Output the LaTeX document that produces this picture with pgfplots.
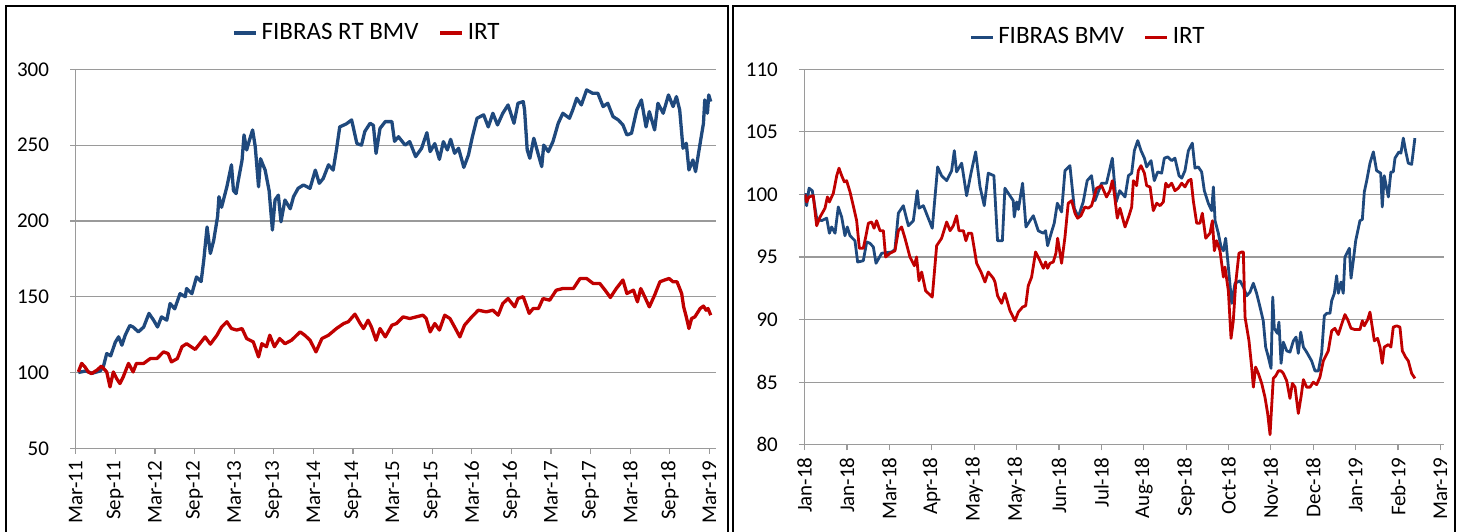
\documentclass[border=0pt]{standalone}
\usepackage{pgfplots}
\usepackage{fontspec}
\setmainfont{Carlito}
\pgfplotsset{compat=1.18}

\definecolor{fblue}{HTML}{1F497D}
\definecolor{irtred}{HTML}{C00000}
\definecolor{gridgray}{HTML}{9A9A9A}

\pgfplotsset{
  panel/.style={
    scale only axis,
    anchor=south west,
    axis x line*=bottom,
    axis y line*=left,
    axis line style={gridgray, line width=0.6pt},
    tick style={gridgray, line width=0.6pt},
    major tick length=2.8pt,
    tick align=outside,
    ymajorgrids,
    grid style={gridgray, line width=0.6pt},
    tick label style={font=\fontsize{10.5}{12}\selectfont},
    /pgf/number format/assume math mode=true,
    yticklabel shift=7pt,
    xticklabel style={rotate=90, anchor=east},
    legend columns=2,
    legend style={draw=none, fill=none, anchor=center,
      font=\fontsize{12.5}{14}\selectfont,
      /tikz/every even column/.append style={column sep=8pt}},
    legend image code/.code={\draw[#1] (0pt,0pt) -- (11pt,0pt);},
  },
  fser/.style={fblue, line width=1.65pt, line join=round},
  iser/.style={irtred, line width=1.65pt, line join=round},
}

\begin{document}
\begin{tikzpicture}
\useasboundingbox (0,0) rectangle (730pt,265.5pt);
\draw[line width=1pt] (2.75pt,-5pt) -- (2.75pt,262.5pt) -- (364.15pt,262.5pt) -- (364.15pt,-5pt);
\draw[line width=1pt] (366.35pt,-5pt) -- (366.35pt,262.5pt) -- (727.65pt,262.5pt) -- (727.65pt,-5pt);

% left: since March 2011 (x in months)
\begin{axis}[panel,
  at={(37.85pt,41.35pt)},
  width=320.15pt, height=189.5pt,
  xmin=0, xmax=97, ymin=50, ymax=300,
  ytick={50,100,...,300},
  xtick={0,6,...,96},
  xticklabels={Mar-11,Sep-11,Mar-12,Sep-12,Mar-13,Sep-13,Mar-14,Sep-14,Mar-15,Sep-15,Mar-16,Sep-16,Mar-17,Sep-17,Mar-18,Sep-18,Mar-19},
  legend style={at={(0.4565,1.0958)}},
]
\addplot[fser] coordinates {
(0.4,100) (1.5,101) (2.5,99.5) (3.7,101) (4.2,104) (4.7,112.5) (5.3,111) (6,120)
(6.5,123.5) (7,118) (7.5,124.6) (8.2,131) (8.7,130) (9.5,126.8) (10.3,130) (11.1,139)
(11.8,134.5) (12.4,130) (13,136.7) (13.8,134.5) (14.3,145.5) (15,142) (15.8,152) (16.6,150)
(16.8,155.4) (17.6,152) (18.3,163) (19,160) (19.4,174) (19.9,196) (20.4,178.5) (20.9,187)
(21.5,203) (21.7,216) (22.1,209) (22.9,222.5) (23.6,237) (23.9,220) (24.3,218) (24.6,226)
(25.2,240) (25.5,256.7) (25.9,246.8) (26.3,253) (26.8,260) (27.2,249) (27.7,222.5) (28,241)
(28.7,233.5) (29.3,220) (29.8,194) (30.2,213.8) (30.7,217) (31.1,199.4) (31.7,213.8) (32.5,208)
(33,216) (33.7,221.5) (34.5,223.7) (35.5,221.5) (36.3,233.5) (36.9,224.8) (37.5,228) (38.3,237)
(39,233.5) (39.5,246.8) (40,262) (41,264) (41.8,266.6) (42.6,251) (43.3,250) (43.8,259)
(44.6,264.4) (45.1,263) (45.5,244.5) (46.1,261) (46.9,265.5) (47.9,265.5) (48.3,252.5) (48.9,255.5)
(49.9,250) (50.6,252.3) (51.5,242.4) (52.4,247.9) (53.2,258.2) (53.7,245.7) (54.4,251) (55.1,240.6)
(55.7,252.3) (56.3,246.8) (56.8,253.8) (57.4,244.6) (58,247.9) (58.8,235.3) (59.5,243.5) (60.1,255.6)
(60.8,267.7) (61.8,270) (62.5,262) (63.2,271) (63.9,263.3) (64.7,271) (65.5,276.5) (66.4,264.4)
(67,277.6) (67.8,278.7) (68,273.2) (68.4,246.8) (68.8,241.3) (69.4,254.5) (70.1,243.5) (70.6,235.8)
(70.9,250) (71.6,245.7) (72.3,252.3) (73.1,264.4) (73.8,271) (74.8,267.7) (75.3,273.2) (75.9,280.9)
(76.6,276.5) (77.4,286.4) (78.3,284.2) (79.1,284.2) (79.9,275.4) (80.6,277.6) (81.4,268.8) (82.2,266.6)
(82.9,263.3) (83.5,256.7) (84.2,257.8) (85,273.2) (85.7,279.8) (86.4,262) (86.9,272.1) (87.7,260)
(88.2,277.6) (89,271) (89.8,283.1) (90.5,275.4) (91,282) (91.5,273.2) (92,247.9) (92.5,251.2)
(92.9,233.6) (93.5,240.2) (93.9,232.5) (94.6,251.2) (95.1,264.4) (95.3,279.8) (95.7,271) (95.9,283.1)
(96.2,278.7)
};
\addplot[iser] coordinates {
(0.4,100.4) (0.9,106) (1.4,103.7) (1.9,100.4) (2.4,99.3) (3.2,101.5) (3.9,104.2) (4.7,100.4)
(5.2,90.5) (5.7,100.4) (6.2,96) (6.7,92.7) (7.2,97.1) (8,106) (8.7,100.4) (9.2,106)
(10.3,106) (11.3,109.2) (12.3,109.2) (13.3,113.6) (14,112.5) (14.5,107) (15.4,109.2) (16.1,117)
(16.8,119) (18.1,115.2) (18.8,119) (19.6,123.5) (20.4,118.7) (21.4,124.6) (22.1,130) (22.9,133.5)
(23.6,129) (24.4,128) (25.2,129) (25.9,122.4) (26.9,120.2) (27.7,110.3) (28.2,119) (28.9,117)
(29.4,124.6) (30.1,117) (30.9,122.4) (31.7,119) (32.7,121.3) (34,126.8) (34.7,124.6) (35.5,121.3)
(36.4,113.6) (37.3,122.4) (38.3,124.6) (39.5,129) (40.6,132.3) (41.3,133.5) (42.3,138.5) (43.1,132.3)
(43.6,129) (44.3,134.5) (44.8,130) (45.5,121.3) (46.1,129) (46.9,123.5) (47.9,131.2) (48.6,132.3)
(49.6,136.7) (50.6,135.6) (51.6,136.7) (52.6,137.8) (53.1,135.6) (53.7,126.8) (54.4,132.3) (55.1,128)
(55.9,137.8) (56.7,135.6) (57.4,130) (58.2,123.5) (58.9,131.2) (60,136.7) (61,141.1) (62.2,140)
(63.2,141.1) (64,137.8) (64.7,145.5) (65.5,148.8) (66.5,143.3) (67,148.8) (67.8,150) (68.7,139)
(69.3,142.2) (70.1,142.2) (70.8,148.8) (71.8,147.7) (72.8,154.3) (73.8,155.4) (75.4,155.4) (76.4,162)
(77.4,162) (78.4,158.7) (79.4,158.7) (80.2,154.3) (81,149.5) (81.9,155.4) (82.9,161) (83.5,152.1)
(84.5,154.3) (85.1,146.6) (85.6,155.4) (86.2,150) (86.9,143.3) (87.7,151) (88.5,159.8) (89.2,161)
(89.9,162) (90.5,159.8) (91.1,159.8) (91.8,152.1) (92.1,143.3) (92.5,136.7) (92.9,129) (93.3,135.6)
(93.8,136.7) (94.6,142.2) (95.1,143.8) (95.5,141.1) (95.8,142.2) (96.2,137.8)
};
\legend{FIBRAS RT BMV, IRT}
\end{axis}

% right: 2018-2019 (x in days from 1 Jan 2018)
\begin{axis}[panel,
  at={(402.25pt,43.15pt)},
  width=319.75pt, height=187.7pt,
  xmin=0, xmax=452.5, ymin=80, ymax=110,
  ytick={80,85,...,110},
  xtick={0,30,...,450},
  xticklabels={Jan-18,Jan-18,Mar-18,Apr-18,May-18,May-18,Jun-18,Jul-18,Aug-18,Sep-18,Oct-18,Nov-18,Dec-18,Jan-19,Feb-19,Mar-19},
  legend style={at={(0.4449,1.0855)}},
  fser/.style={fblue, line width=1.4pt, line join=round},
  iser/.style={irtred, line width=1.4pt, line join=round},
]
\addplot[fser] coordinates {
(0.4,100.1) (1.5,99.1) (3.2,100.5) (5.5,100.3) (8.6,98.1) (12.1,97.9) (15.7,98.1) (17.6,96.9)
(19.2,97.4) (21.6,96.9) (23.9,99) (26.3,98.2) (28.6,96.7) (30.3,97.4) (32.2,96.7) (35.7,96.3)
(37.6,94.6) (41.6,94.7) (44,96.2) (46.3,96.1) (48.7,95.8) (50.6,94.5) (54.6,95.3) (61.7,95.4)
(64,95.6) (66.4,98.5) (69.9,99.1) (73.5,97.5) (77,97.9) (79.8,100.3) (81,98.9) (84.1,99.1)
(90.4,97.3) (94.2,102.2) (97,101.5) (100.6,101.1) (104.1,101.9) (106,103.5) (107.6,101.8) (111.2,102.5)
(114.7,99.9) (117.8,101.7) (121.1,103.4) (124.2,100.6) (127.2,99.1) (130,101.7) (134,101.5) (136.6,96.3)
(140,96.3) (141.8,100.5) (147.7,99.5) (148.4,98.2) (150.1,99.4) (151.3,98.8) (154.3,100.9) (156.7,97.4)
(159.5,97.9) (161.9,98.3) (165.4,97.1) (169,96.9) (170.6,97.1) (172,95.9) (174.8,97) (176.7,97.7)
(178.9,99.3) (181.9,98.6) (184.3,101.9) (187.8,102.3) (190.9,98.9) (193.7,98.2) (197.2,99.4) (200,101.1)
(203.1,101.5) (205.5,99.5) (210.2,100.9) (213.7,100.9) (217.8,102.9) (220.5,99.4) (223,100.3) (226.8,99.8)
(229.2,101.5) (231.5,101.7) (233.4,103.5) (235.8,104.3) (238.1,103.5) (240.5,102.9) (242.1,102.2) (245.2,102.7)
(247.5,101.1) (249.9,101.8) (252.7,101.7) (254.6,102.9) (257,103) (259.8,102.7) (262.1,102.9) (265,101.5)
(266.9,101.3) (269.2,101.9) (271.6,103.5) (274.4,104.1) (276.3,102.1) (278.6,102.2) (281,101.8) (282.9,100.3)
(285.7,99.3) (288.1,98.7) (289.3,100.6) (290.5,97.9) (292.8,96.9) (294.7,95.8) (296.4,95.5) (298,96.5)
(299.9,94.2) (302.3,91.3) (304.6,92.9) (308.1,93.1) (310.5,92.6) (312.9,91.9) (315.2,92.2) (317.6,92.9)
(319.9,92.1) (322.3,91) (324.6,89.9) (326.3,87.8) (328.2,87) (330.1,86.1) (331.3,91.8) (332.4,89.3)
(334.6,88.9) (335.7,89.8) (337.2,86.5) (338.8,88.2) (341.2,87.5) (343.5,87.4) (345.9,88.3) (347.8,88.6)
(349.4,87.3) (351.1,89) (353,87.8) (355.3,87.4) (358.8,86.7) (361.2,85.9) (363.6,85.9) (365.9,87.3)
(367.8,90.3) (369.5,90.5) (371.8,90.5) (373,91.5) (374.9,92.1) (376.5,93.5) (377.7,92.1) (379.6,93)
(381.2,92.1) (382.4,95) (385.5,95.7) (386.7,93.3) (388.3,94.7) (390,96.3) (393,97.9) (394.7,98)
(396.1,100.2) (397.8,101.1) (400.1,102.5) (402.5,103.4) (404.8,101.9) (407.7,101.7) (408.8,99) (410.2,101.5)
(413.1,99.8) (414.9,101.8) (416.6,101.8) (417.8,102.9) (420.6,103.4) (422,103.3) (423.7,104.5) (425.3,103.5)
(427.2,102.5) (429.6,102.4) (431.9,104.5)
};
\addplot[iser] coordinates {
(0.4,100) (1.5,99.4) (3.2,99.8) (6.2,99.9) (8.6,97.5) (11,98.2) (14.5,98.9) (16.2,99.8)
(17.6,99.4) (20.4,100.1) (22.8,101.5) (24.4,102.1) (26.3,101.5) (28.2,101) (29.8,101.1) (32.2,100.2)
(34.5,99.1) (36.9,97.9) (38.8,95.7) (41.6,95.7) (43.3,96.6) (45.2,97.7) (47.5,97.8) (49.2,97.3)
(51,97.9) (53.4,97.1) (55.8,97.1) (57.4,95) (60.5,95.3) (64,95.5) (66.4,97.1) (68.7,97.4)
(71.1,96.5) (74.6,95) (77.7,94.3) (79.3,95) (81,93.1) (82.9,93.8) (85.7,92.3) (90.4,91.8)
(93.5,95.9) (97,96.5) (100.6,97.8) (103,97.1) (105.3,97.5) (107.6,98.3) (109.3,97.1) (112.4,97.1)
(114.2,96.3) (115.9,96.9) (118.3,96.9) (121.8,94.5) (124.9,93.8) (127.7,93) (130,93.8) (133.6,93.3)
(134.8,93) (136.6,91.9) (139.5,91.3) (141.8,92.1) (145.4,90.7) (148.9,89.9) (151.3,90.6) (154.3,91)
(156.5,91.1) (158.3,92.7) (160.7,93.4) (163.5,95.4) (166.6,94.7) (169,94.1) (170.6,94.6) (172,94.1)
(173.7,94.5) (176,94.6) (177.9,95.3) (179.1,96.5) (181.9,94.5) (184.3,96.6) (186.6,99.3) (189,99.5)
(191.4,98.5) (193.2,98.1) (195.6,98.3) (198.4,99) (200.8,98.9) (203.1,99.1) (206.7,100.5) (210.2,100.7)
(213.7,99.8) (216.1,100.3) (217.8,101.1) (219.2,100.1) (221.3,98.1) (223.2,98.9) (226.8,97.4) (229.6,98.3)
(231.5,99) (232.7,101.1) (235,100.7) (236.2,101.9) (238.1,102.3) (240.5,101.7) (242.1,100.7) (244.5,100.6)
(246.8,98.7) (249.2,99.3) (251.6,99.1) (253.9,99.4) (255.6,100.9) (257.4,100.6) (259.8,100.9) (262.1,100.3)
(264.5,100.5) (266.9,100.9) (269.2,100.6) (271.6,101.1) (273.5,101.2) (275.1,99.5) (277.5,97.7) (279.8,97.7)
(281.5,98.5) (283.9,96.5) (286.9,96.9) (288.6,97.9) (290,95.5) (291.6,96.3) (294,95.5) (296.4,93.4)
(297.5,94.2) (299.9,92.3) (301.8,88.5) (303.4,89.9) (305.1,92.9) (307.4,95.3) (309.3,95.4) (310.5,95.4)
(311.7,90.2) (314.5,88.3) (316.4,86.2) (317.6,84.6) (319.2,86.2) (321.1,85.7) (323.5,84.9) (325.8,83.8)
(327.7,82.5) (329.4,80.8) (330.5,83) (331.7,85.3) (333.4,85.5) (335.3,85.9) (337.2,85.9) (338.8,85.7)
(341.2,85.1) (343.5,83.7) (345.2,84.9) (347.1,84.6) (349.4,82.5) (351.3,83.8) (353,85.2) (355.3,84.6)
(357.7,84.6) (360,85) (362.4,84.8) (364.7,85.4) (367.1,86.7) (370.6,87.5) (373,89.1) (375.3,89.3)
(377.7,88.8) (380,89.6) (382.4,90.4) (384.3,90) (386.7,89.3) (389.5,89.2) (393,89.2) (394.7,89.9)
(396.1,89.5) (398.5,90) (400.1,90.6) (403.2,88.3) (405.5,88.5) (407.2,87.8) (408.8,86.5) (410.2,87.8)
(413.1,88) (414.9,87.8) (416.6,89.4) (419,89.5) (421.3,89.4) (423,87.5) (425.3,87) (427.2,86.7)
(429.6,85.7) (431.9,85.3)
};
\legend{FIBRAS BMV, IRT}
\end{axis}
\end{tikzpicture}
\end{document}
